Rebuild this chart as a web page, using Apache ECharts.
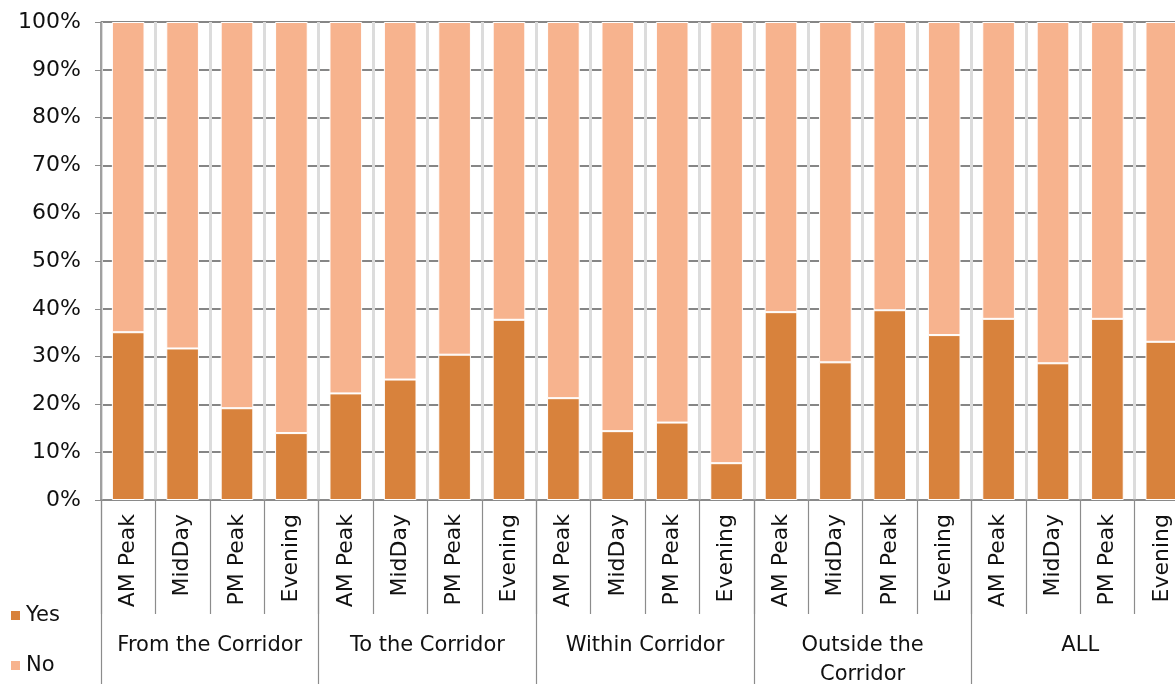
<!DOCTYPE html>
<html>
<head>
<meta charset="utf-8">
<script src="https://cdn.jsdelivr.net/npm/echarts@6/dist/echarts.min.js"></script>
<style>
html,body{margin:0;padding:0;background:#fff;overflow:hidden;}
#chart{width:1175px;height:684px;}
</style>
</head>
<body>
<div id="chart"></div>
<script>
const groups = ['From the Corridor', 'To the Corridor', 'Within Corridor', 'Outside the\nCorridor', 'ALL'];
const periods = ['AM Peak', 'MidDay', 'PM Peak', 'Evening'];
const yesValues = [35.1, 31.7, 19.2, 14.0, 22.3, 25.2, 30.4, 37.7, 21.3, 14.4, 16.2, 7.7, 39.3, 28.8, 39.7, 34.5, 37.9, 28.6, 37.9, 33.1];
const noValues = [64.9, 68.3, 80.8, 86.0, 77.7, 74.8, 69.6, 62.3, 78.7, 85.6, 83.8, 92.3, 60.7, 71.2, 60.3, 65.5, 62.1, 71.4, 62.1, 66.9];
const yTicks = [0, 10, 20, 30, 40, 50, 60, 70, 80, 90, 100];

const categories = [];
groups.forEach(g => periods.forEach(p => categories.push(p)));

const FONT = 'DejaVu Sans';
const chart = echarts.init(document.getElementById('chart'));
chart.setOption({
  animation: false,
  textStyle: { fontFamily: FONT },
  legend: {
    orient: 'vertical',
    left: 4,
    top: 600,
    itemWidth: 11,
    itemHeight: 11,
    itemGap: 29,
    icon: 'rect',
    textStyle: { fontSize: 21, color: '#111', fontFamily: FONT },
    data: ['Yes', 'No']
  },
  grid: { left: 101, right: -14, top: 22, height: 478, containLabel: false, outerBoundsMode: 'none' },
  xAxis: [
    {
      type: 'category',
      data: categories,
      position: 'bottom',
      axisLine: { show: true, lineStyle: { color: '#8c8c8c', width: 1.5 } },
      axisTick: { show: true, interval: 0, length: 114, lineStyle: { color: '#8c8c8c', width: 1.2 } },
      axisLabel: { interval: 0, rotate: 90, margin: 14, fontSize: 22, color: '#111', fontFamily: FONT },
      splitLine: { show: true, interval: 0, lineStyle: { color: '#dcdcdc', width: 3 } }
    },
    {
      type: 'category',
      data: groups,
      position: 'bottom',
      axisLine: { show: false },
      axisTick: { show: true, interval: 0, length: 200, lineStyle: { color: '#8c8c8c', width: 1.2 } },
      axisLabel: { interval: 0, margin: 131, fontSize: 21, lineHeight: 29, color: '#111', fontFamily: FONT, align: 'center' },
      splitLine: { show: false }
    }
  ],
  yAxis: {
    type: 'value',
    min: yTicks[0],
    max: yTicks[yTicks.length - 1],
    interval: 10,
    axisLine: { show: true, lineStyle: { color: '#8c8c8c', width: 1.5 } },
    axisTick: { show: true, length: 6, lineStyle: { color: '#8c8c8c' } },
    axisLabel: { formatter: '{value}%', fontSize: 22, color: '#111', margin: 20, fontFamily: FONT },
    splitLine: { show: true, lineStyle: { color: '#868686', width: 2 } }
  },
  series: [
    {
      name: 'Yes',
      type: 'bar',
      stack: 'total',
      data: yesValues,
      barCategoryGap: '40%',
      itemStyle: { color: '#D8823C', borderColor: '#ffffff', borderWidth: 1 }
    },
    {
      name: 'No',
      type: 'bar',
      stack: 'total',
      data: noValues,
      barCategoryGap: '40%',
      itemStyle: { color: '#F7B38E', borderColor: '#ffffff', borderWidth: 1 }
    }
  ]
});
</script>
</body>
</html>
